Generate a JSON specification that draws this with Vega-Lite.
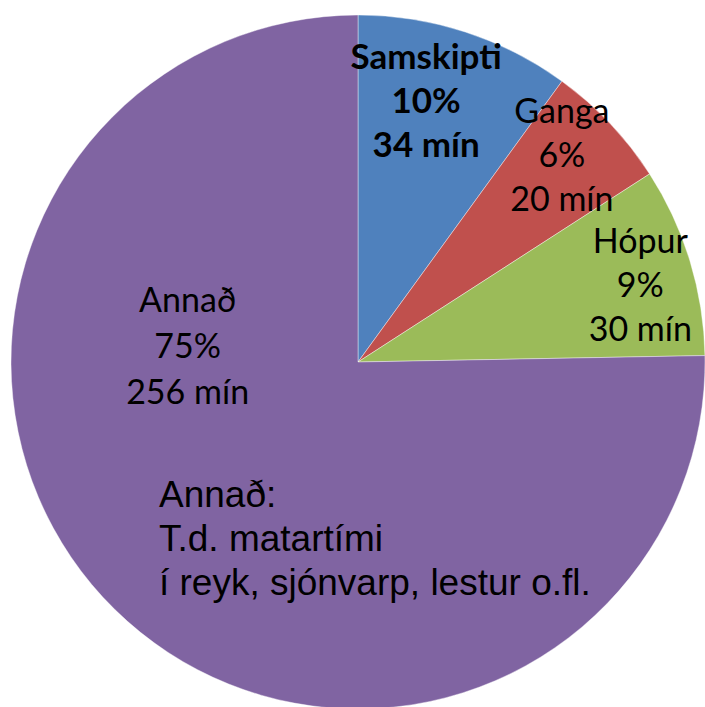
{
  "$schema": "https://vega.github.io/schema/vega-lite/v6.json",
  "width": 696,
  "height": 694,
  "padding": {"left": 9, "top": 13, "right": 0, "bottom": 0},
  "background": "white",
  "config": {"view": {"stroke": null}, "text": {"lineBreak": "\n"}},
  "data": {
    "values": [
      {"ord": 1, "cat": "Samskipti", "min": 34, "label": "Samskipti\n10%\n34 mín", "note": ""},
      {"ord": 2, "cat": "Ganga", "min": 20, "label": "Ganga\n6%\n20 mín", "note": ""},
      {"ord": 3, "cat": "Hópur", "min": 30, "label": "Hópur\n9%\n30 mín", "note": ""},
      {"ord": 4, "cat": "Annað", "min": 256, "label": "Annað\n75%\n256 mín", "note": "Annað:\nT.d. matartími\ní reyk, sjónvarp, lestur o.fl."}
    ]
  },
  "encoding": {
    "theta": {"field": "min", "type": "quantitative", "stack": true},
    "order": {"field": "ord", "type": "quantitative"}
  },
  "layer": [
    {
      "mark": {"type": "arc", "stroke": "#ffffff", "strokeWidth": 0.8, "strokeOpacity": 0.5},
      "encoding": {
        "color": {
          "field": "cat",
          "type": "nominal",
          "scale": {"domain": ["Samskipti", "Ganga", "Hópur", "Annað"], "range": ["#4F81BD", "#C0504D", "#9BBB59", "#8064A2"]},
          "legend": null
        }
      }
    },
    {
      "mark": {"type": "text", "radius": 269, "thetaOffset": -0.058, "dy": -44, "font": "Lato", "fontSize": 35, "fontWeight": "bold", "lineHeight": 44, "color": "#000000", "baseline": "middle", "align": "center"},
      "encoding": {"text": {"condition": {"test": "datum.cat === 'Samskipti'", "field": "label"}, "value": ""}}
    },
    {
      "mark": {"type": "text", "radius": 289, "thetaOffset": -0.03, "dy": -44, "font": "Lato", "fontSize": 34, "lineHeight": 44, "color": "#000000", "baseline": "middle", "align": "center"},
      "encoding": {"text": {"condition": {"test": "datum.cat === 'Ganga'", "field": "label"}, "value": ""}}
    },
    {
      "mark": {"type": "text", "radius": 292, "thetaOffset": 0.037, "dy": -44, "font": "Lato", "fontSize": 34, "lineHeight": 44, "color": "#000000", "baseline": "middle", "align": "center"},
      "encoding": {"text": {"condition": {"test": "datum.cat === 'Hópur'", "field": "label"}, "value": ""}}
    },
    {
      "mark": {"type": "text", "radius": 171, "thetaOffset": 0.88, "dy": -45, "font": "Lato", "fontSize": 34, "lineHeight": 46, "color": "#000000", "baseline": "middle", "align": "center"},
      "encoding": {"text": {"condition": {"test": "datum.cat === 'Annað'", "field": "label"}, "value": ""}}
    },
    {
      "mark": {"type": "text", "radius": 267, "thetaOffset": 0.065, "dy": -44, "font": "Liberation Sans", "fontSize": 37, "lineHeight": 44, "color": "#000000", "baseline": "middle", "align": "left"},
      "encoding": {"text": {"field": "note"}}
    }
  ]
}
